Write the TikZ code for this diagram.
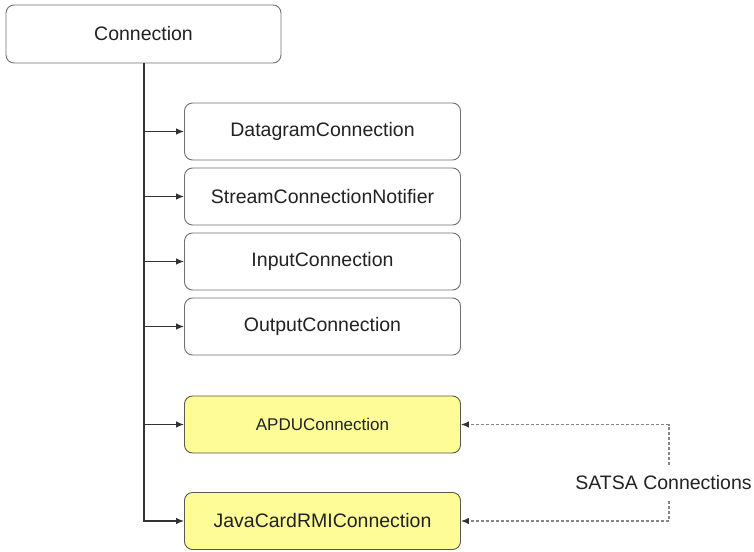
\documentclass[tikz,border=0pt]{standalone}
\usepackage{fontspec}
\setmainfont{Liberation Sans}
\usetikzlibrary{arrows.meta,calc}

\definecolor{boxline}{HTML}{707070}
\definecolor{satsafill}{HTML}{FDFC96}
\definecolor{satsaline}{HTML}{5A5A4A}
\definecolor{wire}{HTML}{333333}
\definecolor{dashwire}{HTML}{858585}
\definecolor{txt}{HTML}{222222}

\tikzset{
  classbox/.style={draw=boxline, line width=0.9pt, rounded corners=8pt, fill=white,
    minimum width=276pt, minimum height=57pt, inner sep=0pt, text=txt,
    font=\fontsize{19.5}{22}\selectfont},
  satsabox/.style={classbox, fill=satsafill, draw=satsaline},
  wireline/.style={draw=wire, line width=1.2pt},
  inherit/.style={wireline, -{Latex[length=8pt,width=6.5pt]}},
  satsalink/.style={draw=dashwire, line width=1.2pt, dash pattern=on 3pt off 2pt,
    -{Latex[length=8pt,width=6.5pt,color=wire]}},
}

\begin{document}
\begin{tikzpicture}[x=1pt, y=-1pt]
  \useasboundingbox (0,0) rectangle (754,551);

  % root interface
  \node[classbox, minimum width=275pt, minimum height=58pt] (conn) at (143.5,34) {Connection};

  % sub-interfaces
  \node[classbox] (dg)  at (322.5,131.5) {DatagramConnection};
  \node[classbox] (scn) at (322.5,196.5) {StreamConnectionNotifier};
  \node[classbox] (ic)  at (322.5,261.5) {InputConnection};
  \node[classbox] (oc)  at (322.5,326.5) {OutputConnection};
  \node[satsabox, font=\fontsize{17}{20}\selectfont] (apdu) at (322.5,424.5) {APDUConnection};
  \node[satsabox] (jc)  at (322.5,521) {JavaCardRMIConnection};

  % inheritance trunk
  \coordinate (trunk) at (144,63);
  \draw[inherit] (trunk) |- (jc.west);
  \foreach \n in {dg,scn,ic,oc,apdu}
    \draw[inherit] (trunk |- \n.west) -- (\n.west);

  % SATSA grouping
  \node[inner sep=0pt, minimum height=36pt, text=txt,
        font=\fontsize{19.5}{22}\selectfont] (satsa) at (663.5,483) {SATSA Connections};
  \coordinate (dx) at (669,424.5);
  \draw[satsalink] (dx |- satsa.north) |- (apdu.east);
  \draw[satsalink] (dx |- satsa.south) |- (jc.east);
\end{tikzpicture}
\end{document}
